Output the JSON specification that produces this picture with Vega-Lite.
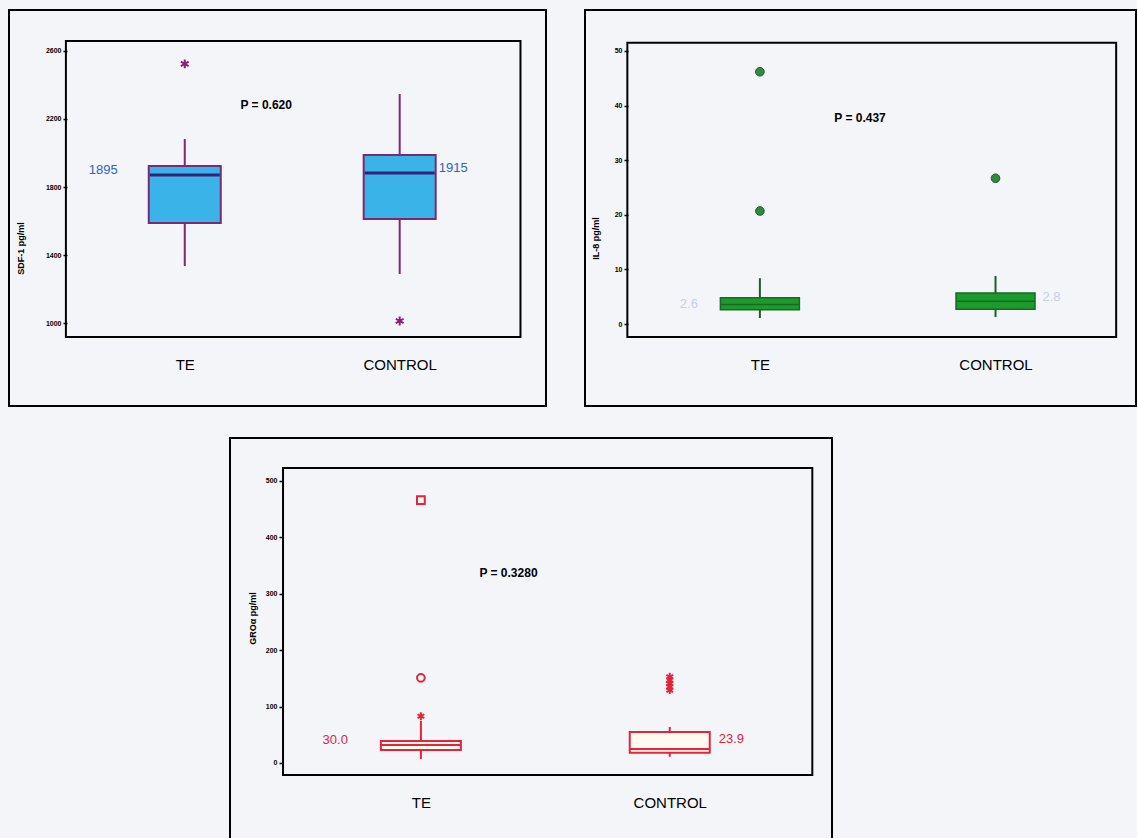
{
"$schema": "https://vega.github.io/schema/vega-lite/v6.json",
"background": "#f3f5f9",
"padding": {"left": 8, "top": 9, "right": 0, "bottom": 0},
"autosize": {"type": "pad"},
"config": {"view": {"stroke": "black", "strokeWidth": 2}, "font": "Liberation Sans"},
"datasets": {
 "one": [{}],
 "sdf_box": [
  {"group": "TE", "slot": 1, "lower": 1335, "q1": 1588, "median": 1871, "q3": 1924, "upper": 2082, "label": "1895"},
  {"group": "CONTROL", "slot": 2, "lower": 1288, "q1": 1612, "median": 1882, "q3": 1988, "upper": 2347, "label": "1915"}
 ],
 "sdf_out": [
  {"group": "TE", "slot": 1, "value": 2524},
  {"group": "CONTROL", "slot": 2, "value": 1012}
 ],
 "il8_box": [
  {"group": "TE", "slot": 1, "lower": 1.1, "q1": 2.6, "median": 3.6, "q3": 4.8, "upper": 8.4, "label": "2.6"},
  {"group": "CONTROL", "slot": 2, "lower": 1.3, "q1": 2.7, "median": 4.2, "q3": 5.7, "upper": 8.8, "label": "2.8"}
 ],
 "il8_out": [
  {"group": "TE", "slot": 1, "value": 46.2},
  {"group": "TE", "slot": 1, "value": 20.7},
  {"group": "CONTROL", "slot": 2, "value": 26.7}
 ],
 "gro_box": [
  {"group": "TE", "slot": 1, "lower": 7, "q1": 23, "median": 32, "q3": 39, "upper": 75, "label": "30.0"},
  {"group": "CONTROL", "slot": 2, "lower": 11, "q1": 18, "median": 25, "q3": 55, "upper": 64, "label": "23.9"}
 ],
 "gro_out": [
  {"group": "TE", "slot": 1, "value": 466, "symbol": "square"},
  {"group": "TE", "slot": 1, "value": 151, "symbol": "circle"},
  {"group": "TE", "slot": 1, "value": 83, "symbol": "star"},
  {"group": "CONTROL", "slot": 2, "value": 153, "symbol": "star"},
  {"group": "CONTROL", "slot": 2, "value": 147, "symbol": "star"},
  {"group": "CONTROL", "slot": 2, "value": 141, "symbol": "star"},
  {"group": "CONTROL", "slot": 2, "value": 135, "symbol": "star"},
  {"group": "CONTROL", "slot": 2, "value": 129, "symbol": "star"}
 ]
},
"spacing": 30,
"vconcat": [
 {"spacing": 37, "hconcat": [
  {"width": 537, "height": 396,
   "layer": [
    {"data": {"name": "one"},
     "mark": {"type": "rect", "fillOpacity": 0, "stroke": "black", "strokeWidth": 2},
     "encoding": {
      "x": {"datum": 0.447, "type": "quantitative", "scale": {"domain": [0.2055, 2.6575], "nice": false, "zero": false},
        "axis": {"values": [1, 2], "labelExpr": "datum.value == 1 ? 'TE' : 'CONTROL'", "title": null, "domain": false, "ticks": false, "grid": false, "offset": -69, "labelPadding": 20, "labelFontSize": 15, "labelColor": "black", "labelAngle": 0}},
      "x2": {"datum": 2.562},
      "y": {"datum": 918, "type": "quantitative", "scale": {"domain": [512, 2841], "nice": false, "zero": false},
        "axis": {"values": [1000, 1400, 1800, 2200, 2600], "format": "d", "title": "SDF-1 pg/ml", "domain": false, "grid": false, "offset": -58, "tickSize": 4, "tickWidth": 1.5, "tickColor": "black", "labelFontSize": 7, "labelFontWeight": "bold", "labelPadding": 2, "labelColor": "black", "titleFontSize": 9, "titleFontWeight": "bold", "titleColor": "black", "titleX": -42, "titleY": 238}},
      "y2": {"datum": 2659}
     }},
    {"data": {"name": "sdf_box"},
     "mark": {"type": "rule", "color": "#7b2a72", "strokeWidth": 2},
     "encoding": {
      "x": {"field": "slot", "type": "quantitative", "scale": {"domain": [0.2055, 2.6575], "nice": false, "zero": false}},
      "y": {"field": "lower", "type": "quantitative", "scale": {"domain": [512, 2841], "nice": false, "zero": false}},
      "y2": {"field": "upper"}
     }},
    {"data": {"name": "sdf_box"},
     "mark": {"type": "bar", "width": 72, "fill": "#3ab4e8", "stroke": "#7b2a72", "strokeWidth": 2},
     "encoding": {
      "x": {"field": "slot", "type": "quantitative", "scale": {"domain": [0.2055, 2.6575], "nice": false, "zero": false}},
      "y": {"field": "q1", "type": "quantitative", "scale": {"domain": [512, 2841], "nice": false, "zero": false}},
      "y2": {"field": "q3"}
     }},
    {"data": {"name": "sdf_box"},
     "mark": {"type": "tick", "orient": "horizontal", "size": 70, "thickness": 3, "color": "#35207a", "opacity": 1},
     "encoding": {
      "x": {"field": "slot", "type": "quantitative", "scale": {"domain": [0.2055, 2.6575], "nice": false, "zero": false}},
      "y": {"field": "median", "type": "quantitative", "scale": {"domain": [512, 2841], "nice": false, "zero": false}}
     }},
    {"data": {"name": "sdf_out"},
     "mark": {"type": "point", "shape": "M0,-1L0,1M-0.87,-0.5L0.87,0.5M-0.87,0.5L0.87,-0.5", "filled": false, "stroke": "#8b2070", "strokeWidth": 2, "size": 80, "opacity": 1},
     "encoding": {
      "x": {"field": "slot", "type": "quantitative", "scale": {"domain": [0.2055, 2.6575], "nice": false, "zero": false}},
      "y": {"field": "value", "type": "quantitative", "scale": {"domain": [512, 2841], "nice": false, "zero": false}}
     }},
    {"data": {"name": "sdf_box"},
     "transform": [{"filter": "datum.group == 'TE'"}],
     "mark": {"type": "text", "align": "right", "baseline": "middle", "dx": -67, "dy": -5, "fontSize": 13, "color": "#2f63c4"},
     "encoding": {
      "x": {"field": "slot", "type": "quantitative", "scale": {"domain": [0.2055, 2.6575], "nice": false, "zero": false}},
      "y": {"field": "median", "type": "quantitative", "scale": {"domain": [512, 2841], "nice": false, "zero": false}},
      "text": {"field": "label"}
     }},
    {"data": {"name": "sdf_box"},
     "transform": [{"filter": "datum.group == 'CONTROL'"}],
     "mark": {"type": "text", "align": "left", "baseline": "middle", "dx": 39, "dy": -5, "fontSize": 13, "color": "#2f63c4"},
     "encoding": {
      "x": {"field": "slot", "type": "quantitative", "scale": {"domain": [0.2055, 2.6575], "nice": false, "zero": false}},
      "y": {"field": "median", "type": "quantitative", "scale": {"domain": [512, 2841], "nice": false, "zero": false}},
      "text": {"field": "label"}
     }},
    {"data": {"name": "one"},
     "mark": {"type": "text", "text": "P = 0.620", "fontWeight": "bold", "fontSize": 12, "color": "black", "align": "center", "baseline": "middle"},
     "encoding": {
      "x": {"datum": 1.379, "type": "quantitative", "scale": {"domain": [0.2055, 2.6575], "nice": false, "zero": false}},
      "y": {"datum": 2282, "type": "quantitative", "scale": {"domain": [512, 2841], "nice": false, "zero": false}}
     }}
   ]},
  {"width": 551, "height": 396,
   "layer": [
    {"data": {"name": "one"},
     "mark": {"type": "rect", "fillOpacity": 0, "stroke": "black", "strokeWidth": 2},
     "encoding": {
      "x": {"datum": 0.4375, "type": "quantitative", "scale": {"domain": [0.279, 2.575], "nice": false, "zero": false},
        "axis": {"values": [1, 2], "labelExpr": "datum.value == 1 ? 'TE' : 'CONTROL'", "title": null, "domain": false, "ticks": false, "grid": false, "offset": -69, "labelPadding": 20, "labelFontSize": 15, "labelColor": "black", "labelAngle": 0}},
      "x2": {"datum": 2.512},
      "y": {"datum": -2.38, "type": "quantitative", "scale": {"domain": [-15.0, 57.5], "nice": false, "zero": false},
        "axis": {"values": [0, 10, 20, 30, 40, 50], "format": "d", "title": "IL-8 pg/ml", "domain": false, "grid": false, "offset": -43, "tickSize": 4, "tickWidth": 1.5, "tickColor": "black", "labelFontSize": 7, "labelFontWeight": "bold", "labelPadding": 2, "labelColor": "black", "titleFontSize": 9, "titleFontWeight": "bold", "titleColor": "black", "titleX": -28, "titleY": 228}},
      "y2": {"datum": 51.5}
     }},
    {"data": {"name": "il8_box"},
     "mark": {"type": "rule", "color": "#1f5e2a", "strokeWidth": 2},
     "encoding": {
      "x": {"field": "slot", "type": "quantitative", "scale": {"domain": [0.279, 2.575], "nice": false, "zero": false}},
      "y": {"field": "lower", "type": "quantitative", "scale": {"domain": [-15.0, 57.5], "nice": false, "zero": false}},
      "y2": {"field": "upper"}
     }},
    {"data": {"name": "il8_box"},
     "mark": {"type": "bar", "width": 79, "fill": "#1d9a2c", "stroke": "#146b22", "strokeWidth": 1.5},
     "encoding": {
      "x": {"field": "slot", "type": "quantitative", "scale": {"domain": [0.279, 2.575], "nice": false, "zero": false}},
      "y": {"field": "q1", "type": "quantitative", "scale": {"domain": [-15.0, 57.5], "nice": false, "zero": false}},
      "y2": {"field": "q3"}
     }},
    {"data": {"name": "il8_box"},
     "mark": {"type": "tick", "orient": "horizontal", "size": 78, "thickness": 1.5, "color": "#146b22", "opacity": 1},
     "encoding": {
      "x": {"field": "slot", "type": "quantitative", "scale": {"domain": [0.279, 2.575], "nice": false, "zero": false}},
      "y": {"field": "median", "type": "quantitative", "scale": {"domain": [-15.0, 57.5], "nice": false, "zero": false}}
     }},
    {"data": {"name": "il8_out"},
     "mark": {"type": "point", "shape": "circle", "filled": true, "fill": "#2e8b3e", "stroke": "#1f5e2a", "strokeWidth": 1, "size": 75, "opacity": 1},
     "encoding": {
      "x": {"field": "slot", "type": "quantitative", "scale": {"domain": [0.279, 2.575], "nice": false, "zero": false}},
      "y": {"field": "value", "type": "quantitative", "scale": {"domain": [-15.0, 57.5], "nice": false, "zero": false}}
     }},
    {"data": {"name": "il8_box"},
     "transform": [{"filter": "datum.group == 'TE'"}],
     "mark": {"type": "text", "align": "right", "baseline": "middle", "dx": -62, "dy": 0, "fontSize": 13, "color": "#c5cfe6"},
     "encoding": {
      "x": {"field": "slot", "type": "quantitative", "scale": {"domain": [0.279, 2.575], "nice": false, "zero": false}},
      "y": {"field": "median", "type": "quantitative", "scale": {"domain": [-15.0, 57.5], "nice": false, "zero": false}},
      "text": {"field": "label"}
     }},
    {"data": {"name": "il8_box"},
     "transform": [{"filter": "datum.group == 'CONTROL'"}],
     "mark": {"type": "text", "align": "left", "baseline": "middle", "dx": 47, "dy": -4, "fontSize": 13, "color": "#c5cfe6"},
     "encoding": {
      "x": {"field": "slot", "type": "quantitative", "scale": {"domain": [0.279, 2.575], "nice": false, "zero": false}},
      "y": {"field": "median", "type": "quantitative", "scale": {"domain": [-15.0, 57.5], "nice": false, "zero": false}},
      "text": {"field": "label"}
     }},
    {"data": {"name": "one"},
     "mark": {"type": "text", "text": "P = 0.437", "fontWeight": "bold", "fontSize": 12, "color": "black", "align": "center", "baseline": "middle"},
     "encoding": {
      "x": {"datum": 1.425, "type": "quantitative", "scale": {"domain": [0.279, 2.575], "nice": false, "zero": false}},
      "y": {"datum": 37.7, "type": "quantitative", "scale": {"domain": [-15.0, 57.5], "nice": false, "zero": false}}
     }}
   ]}
 ]},
 {"spacing": 20, "hconcat": [
  {"width": 200, "height": 10, "view": {"stroke": null},
   "data": {"name": "one"},
   "mark": {"type": "point", "opacity": 0},
   "encoding": {}},
  {"width": 602, "height": 403,
   "layer": [
    {"data": {"name": "one"},
     "mark": {"type": "rect", "fillOpacity": 0, "stroke": "black", "strokeWidth": 2},
     "encoding": {
      "x": {"datum": 0.446, "type": "quantitative", "scale": {"domain": [0.253, 2.632], "nice": false, "zero": false},
        "axis": {"values": [1, 2], "labelExpr": "datum.value == 1 ? 'TE' : 'CONTROL'", "title": null, "domain": false, "ticks": false, "grid": false, "offset": -66, "labelPadding": 20, "labelFontSize": 15, "labelColor": "black", "labelAngle": 0}},
      "x2": {"datum": 2.573},
      "y": {"datum": -21.3, "type": "quantitative", "scale": {"domain": [-138.3, 576.2], "nice": false, "zero": false},
        "axis": {"values": [0, 100, 200, 300, 400, 500], "format": "d", "title": "GROα pg/ml", "domain": false, "grid": false, "offset": -53, "tickSize": 4, "tickWidth": 1.5, "tickColor": "black", "labelFontSize": 7, "labelFontWeight": "bold", "labelPadding": 2, "labelColor": "black", "titleFontSize": 9, "titleFontWeight": "bold", "titleColor": "black", "titleX": -26, "titleY": 180}},
      "y2": {"datum": 523}
     }},
    {"data": {"name": "gro_box"},
     "mark": {"type": "rule", "color": "#e3243b", "strokeWidth": 2},
     "encoding": {
      "x": {"field": "slot", "type": "quantitative", "scale": {"domain": [0.253, 2.632], "nice": false, "zero": false}},
      "y": {"field": "lower", "type": "quantitative", "scale": {"domain": [-138.3, 576.2], "nice": false, "zero": false}},
      "y2": {"field": "upper"}
     }},
    {"data": {"name": "gro_box"},
     "mark": {"type": "bar", "width": 80, "fill": "#fffaf0", "stroke": "#e3243b", "strokeWidth": 2},
     "encoding": {
      "x": {"field": "slot", "type": "quantitative", "scale": {"domain": [0.253, 2.632], "nice": false, "zero": false}},
      "y": {"field": "q1", "type": "quantitative", "scale": {"domain": [-138.3, 576.2], "nice": false, "zero": false}},
      "y2": {"field": "q3"}
     }},
    {"data": {"name": "gro_box"},
     "mark": {"type": "tick", "orient": "horizontal", "size": 80, "thickness": 2, "color": "#e3243b", "opacity": 1},
     "encoding": {
      "x": {"field": "slot", "type": "quantitative", "scale": {"domain": [0.253, 2.632], "nice": false, "zero": false}},
      "y": {"field": "median", "type": "quantitative", "scale": {"domain": [-138.3, 576.2], "nice": false, "zero": false}}
     }},
    {"data": {"name": "gro_out"},
     "mark": {"type": "point", "filled": false, "stroke": "#e3243b", "strokeWidth": 2, "size": 60, "opacity": 1},
     "encoding": {
      "x": {"field": "slot", "type": "quantitative", "scale": {"domain": [0.253, 2.632], "nice": false, "zero": false}},
      "y": {"field": "value", "type": "quantitative", "scale": {"domain": [-138.3, 576.2], "nice": false, "zero": false}},
      "shape": {"field": "symbol", "type": "nominal", "scale": {"domain": ["square", "circle", "star"], "range": ["square", "circle", "M0,-1L0,1M-0.87,-0.5L0.87,0.5M-0.87,0.5L0.87,-0.5"]}, "legend": null}
     }},
    {"data": {"name": "gro_box"},
     "transform": [{"filter": "datum.group == 'TE'"}],
     "mark": {"type": "text", "align": "right", "baseline": "middle", "dx": -73, "dy": -5, "fontSize": 13, "color": "#e3243b"},
     "encoding": {
      "x": {"field": "slot", "type": "quantitative", "scale": {"domain": [0.253, 2.632], "nice": false, "zero": false}},
      "y": {"field": "median", "type": "quantitative", "scale": {"domain": [-138.3, 576.2], "nice": false, "zero": false}},
      "text": {"field": "label"}
     }},
    {"data": {"name": "gro_box"},
     "transform": [{"filter": "datum.group == 'CONTROL'"}],
     "mark": {"type": "text", "align": "left", "baseline": "middle", "dx": 49, "dy": -10, "fontSize": 13, "color": "#e3243b"},
     "encoding": {
      "x": {"field": "slot", "type": "quantitative", "scale": {"domain": [0.253, 2.632], "nice": false, "zero": false}},
      "y": {"field": "median", "type": "quantitative", "scale": {"domain": [-138.3, 576.2], "nice": false, "zero": false}},
      "text": {"field": "label"}
     }},
    {"data": {"name": "one"},
     "mark": {"type": "text", "text": "P = 0.3280", "fontWeight": "bold", "fontSize": 12, "color": "black", "align": "center", "baseline": "middle"},
     "encoding": {
      "x": {"datum": 1.352, "type": "quantitative", "scale": {"domain": [0.253, 2.632], "nice": false, "zero": false}},
      "y": {"datum": 337, "type": "quantitative", "scale": {"domain": [-138.3, 576.2], "nice": false, "zero": false}}
     }}
   ]}
 ]}
]
}
